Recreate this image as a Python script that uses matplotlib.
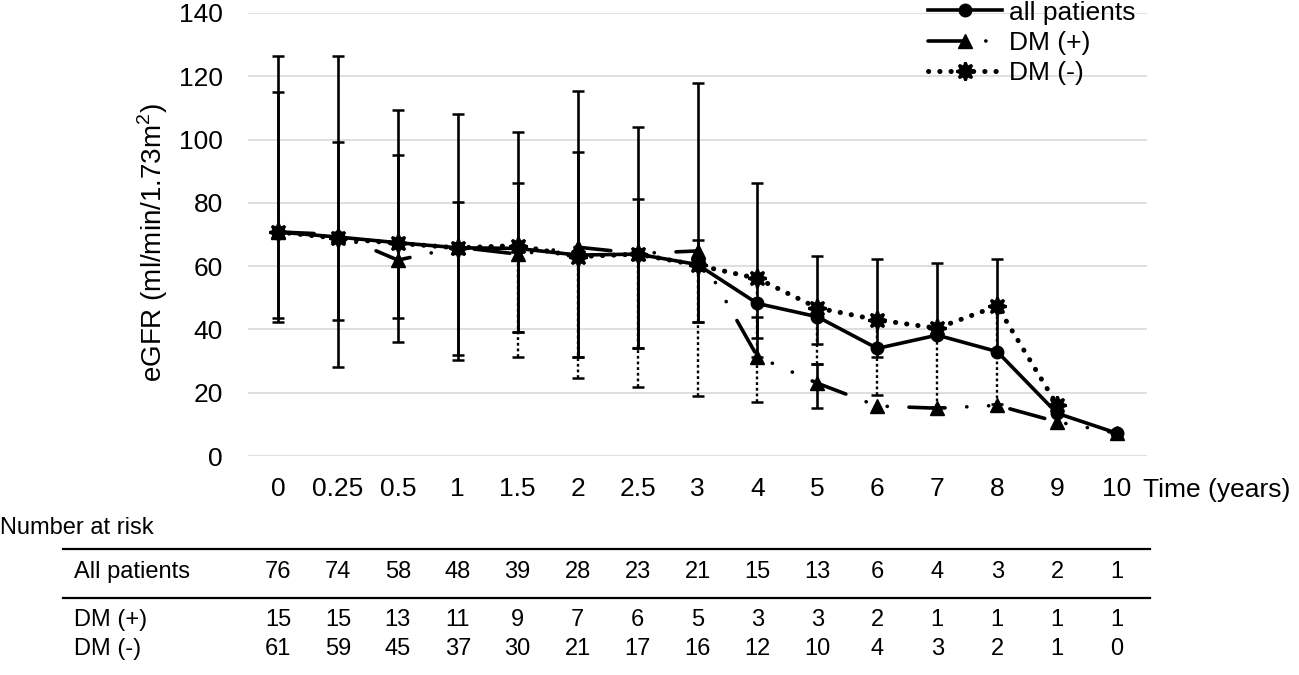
"""eGFR over time with number-at-risk table underneath."""
import matplotlib

matplotlib.use("Agg")
import matplotlib.pyplot as plt  # noqa: E402
import matplotlib.transforms as mtransforms  # noqa: E402
import numpy as np  # noqa: E402
from matplotlib.lines import Line2D  # noqa: E402

plt.rcParams["font.family"] = ["Liberation Sans", "DejaVu Sans"]
plt.rcParams["mathtext.fontset"] = "custom"
plt.rcParams["mathtext.rm"] = "Liberation Sans"

W, H, DPI = 1299, 675, 100
FS = 19        # chart text
FS_TAB = 17    # table text

# ---- data -------------------------------------------------------------
time_labels = ["0", "0.25", "0.5", "1", "1.5", "2", "2.5", "3",
               "4", "5", "6", "7", "8", "9", "10"]

all_mean = [70.8, 69.2, 67.4, 65.8, 65.6, 63.5, 63.8, 60.5,
            48.2, 44.0, 34.0, 38.2, 33.0, 13.5, 7.2]
dmp_mean = [70.8, 70.0, 61.9, 66.0, 63.8, 66.0, 64.0, 64.8,
            31.4, 23.0, 15.8, 15.1, 16.0, 10.8, 7.2]
dmm_mean = [70.8, 68.8, 67.2, 65.8, 66.5, 63.0, 63.8, 60.3,
            56.1, 46.8, 43.0, 40.4, 47.4, 16.1, np.nan]

# error bar ends
all_hi = [126.5, 126.5, 109.3, 108.0, 102.5, 115.2, 104.0, 118.0,
          86.2, 63.2, 62.2, 61.1, 62.2, np.nan, np.nan]
all_lo = [42.4, 28.2, 36.1, 30.3, 39.2, 31.3, 34.2, 42.2,
          37.2, 35.4, 31.2, 38.2, 33.0, np.nan, np.nan]
dmp_hi = [114.9, 99.1, 95.1, 80.2, 86.2, 96.1, 81.1, 68.2,
          44.0, 29.1, np.nan, np.nan, np.nan, np.nan, np.nan]
dmp_lo = [43.5, 43.1, 43.5, 31.9, 39.2, 31.3, 34.2, 42.2,
          31.4, 15.3, np.nan, np.nan, np.nan, np.nan, np.nan]
dmm_lo = [np.nan, np.nan, np.nan, np.nan, 31.3, 24.5, 21.9, 19.0,
          17.2, 29.1, 19.3, 15.5, 16.5, np.nan, np.nan]

n_all = [76, 74, 58, 48, 39, 28, 23, 21, 15, 13, 6, 4, 3, 2, 1]
n_dmp = [15, 15, 13, 11, 9, 7, 6, 5, 3, 3, 2, 1, 1, 1, 1]
n_dmm = [61, 59, 45, 37, 30, 21, 17, 16, 12, 10, 4, 3, 2, 1, 0]


def _err(mean, lo, hi):
    m = np.asarray(mean, float)
    lo = np.asarray(lo, float)
    hi = np.asarray(hi, float)
    return np.vstack([m - lo, hi - m])


fig = plt.figure(figsize=(W / DPI, H / DPI), dpi=DPI)
ax = fig.add_axes([248 / W, 1 - 456 / H, (1147 - 248) / W, (456 - 13) / H])

x = np.arange(len(time_labels))

# error bars
ax.errorbar(x, all_mean, yerr=_err(all_mean, all_lo, all_hi), fmt="none",
            ecolor="black", elinewidth=1.9, capsize=4.6, capthick=1.8, zorder=2)
ax.errorbar(x, dmp_mean, yerr=_err(dmp_mean, dmp_lo, dmp_hi), fmt="none",
            ecolor="black", elinewidth=1.9, capsize=4.6, capthick=1.8, zorder=2)
eb = ax.errorbar(x, dmm_mean, yerr=_err(dmm_mean, dmm_lo, dmm_mean), fmt="none",
                 ecolor="black", elinewidth=1.7, capsize=4.6, capthick=1.8, zorder=1.9)
for col in eb[2]:
    col.set_linestyle((0, (1.2, 1.2)))

# series
ax.plot(x, dmm_mean, color="black", lw=3.6, linestyle=(0, (0.05, 2.2)),
        dash_capstyle="round", marker=(8, 1, 0), markersize=13,
        markeredgewidth=2.0, label="DM (-)", zorder=3)
ax.plot(x, dmp_mean, color="black", lw=2.6,
        linestyle=(0, (10, 6, 0.05, 6, 0.05, 6)), dash_capstyle="round",
        marker="^", markersize=9.5, label="DM (+)", zorder=3.5)
ax.plot(x, all_mean, color="black", lw=2.6, marker="o", markersize=9,
        label="all patients", zorder=4)

ax.set_xlim(-0.5, len(time_labels) - 0.5)
ax.set_ylim(0, 140)
ax.set_yticks(np.arange(0, 141, 20))
ax.set_xticks(x)
ax.set_xticklabels(time_labels)
ax.tick_params(axis="both", length=0, labelsize=FS)
ax.tick_params(axis="y", pad=18)
ax.tick_params(axis="x", pad=15)
for s in ax.spines.values():
    s.set_visible(False)
ax.yaxis.grid(True, color="#d9d9d9", lw=1.2)
ax.set_axisbelow(True)

ax.set_ylabel("eGFR (ml/min/1.73m$^2$)", fontsize=20)
ax.yaxis.set_label_coords((170 - 248) / (1147 - 248), (456 - 242) / (456 - 13))

ax.text((1143 - 248) / (1147 - 248), 1 - 490 / H, "Time (years)",
        transform=mtransforms.blended_transform_factory(ax.transAxes, fig.transFigure),
        ha="left", va="center", fontsize=FS)

handles, labels = ax.get_legend_handles_labels()
order = [2, 1, 0]
ax.legend([handles[i] for i in order], [labels[i] for i in order],
          loc="center", bbox_to_anchor=(1032 / W, 1 - 43 / H),
          bbox_transform=fig.transFigure, frameon=False, fontsize=FS,
          handlelength=2.8, handletextpad=0.27, labelspacing=0.24,
          borderpad=0, borderaxespad=0)

# ---- number at risk table --------------------------------------------
tr = mtransforms.blended_transform_factory(ax.transData, fig.transFigure)
fig.text(0.0, 1 - 528 / H, "Number at risk", ha="left", va="center", fontsize=FS_TAB)
rows = [("All patients", n_all, 572), ("DM (+)", n_dmp, 620), ("DM (-)", n_dmm, 649)]
for name, counts, ypx in rows:
    fig.text(74 / W, 1 - ypx / H, name, ha="left", va="center", fontsize=FS_TAB)
    for xi, c in zip(x, counts):
        ax.text(xi, 1 - ypx / H, str(c), transform=tr, ha="center",
                va="center", fontsize=FS_TAB, clip_on=False)
for ypx in (549, 598):
    fig.add_artist(Line2D([63 / W, 1150 / W], [1 - ypx / H] * 2,
                          color="black", lw=1.6))

fig.savefig("out.png", dpi=DPI)
plt.close(fig)
